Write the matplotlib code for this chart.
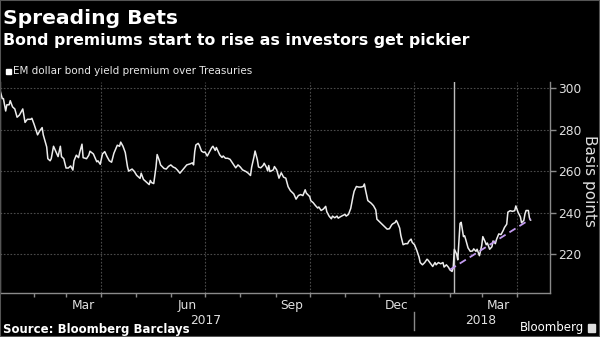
import matplotlib
matplotlib.use("Agg")
import matplotlib.pyplot as plt
import matplotlib.dates as mdates
import matplotlib.transforms as mtransforms
from matplotlib.patches import Rectangle
import pandas as pd

# ---- data (days since 2017-01-01, basis points) ----
day_offsets = [1, 3, 4, 6, 7, 9, 10, 12, 14, 16, 18, 19, 21, 23, 25, 28, 29, 31, 34, 36, 38, 39,
               42, 43, 45, 46, 48, 50, 52, 54, 55, 57, 59, 61, 63, 65, 66, 68, 70, 71, 73, 74,
               77, 79, 80, 83, 86, 87, 89, 91, 93, 95, 97, 99, 101, 104, 106, 107, 109, 111, 113,
               114, 117, 119, 121, 124, 125, 127, 130, 132, 133, 134, 136, 138, 139, 141, 142,
               145, 147, 149, 151, 153, 155, 157, 159, 162, 165, 168, 170, 171, 172, 173, 175,
               176, 178, 180, 181, 183, 185, 187, 188, 190, 191, 194, 196, 197, 199, 201, 203,
               206, 208, 210, 212, 214, 217, 219, 221, 222, 224, 225, 227, 228, 230, 232, 233,
               235, 236, 237, 238, 241, 242, 244, 246, 248, 250, 252, 254, 256, 259, 261, 263,
               265, 267, 269, 270, 273, 274, 276, 278, 280, 281, 283, 285, 287, 288, 290, 292,
               293, 295, 297, 298, 300, 302, 304, 305, 307, 309, 311, 312, 314, 316, 318, 320,
               321, 322, 324, 327, 329, 331, 332, 335, 337, 339, 341, 343, 345, 346, 348, 349,
               350, 352, 353, 355, 357, 359, 360, 362, 363, 365, 367, 369, 370, 372, 374, 376,
               377, 379, 381, 383, 384, 386, 388, 390, 391, 393, 395, 396, 398, 399, 400, 402,
               403, 404, 405, 406, 408, 409, 410, 412, 414, 416, 417, 419, 420, 422, 424, 425,
               427, 428, 429, 431, 433, 434, 436, 437, 439, 441, 443, 444, 446, 447, 449, 451,
               453, 454, 456, 458, 459, 461, 462, 463, 465, 466, 467]
premium_bp = [299, 295, 295, 289, 292, 292, 294, 291, 290, 286, 287, 288, 290, 283.5, 285, 285,
              285.5, 282.5, 277.5, 279.5, 281, 277.5, 271.7, 266, 265, 266, 272, 269.5, 267, 272,
              267, 266, 261.5, 261.5, 262.5, 260.5, 265, 267.7, 266.5, 269, 273, 266.5, 266,
              267.7, 269.6, 268.3, 264.5, 265, 263.3, 268.3, 269.4, 267, 265, 264.3, 268.6,
              272.5, 272, 274, 272, 269, 262, 260, 261, 259.8, 258, 256.5, 259, 256, 254.5,
              253.5, 255.5, 254.5, 254, 262, 268, 265, 263, 261.3, 261, 262.3, 263, 262, 261.5,
              260.4, 259, 261, 263, 263.5, 264, 263, 269.4, 272.6, 273.4, 272.5, 269.6, 269,
              269.3, 267.3, 269.3, 271.4, 272, 270, 271.4, 267.8, 266.6, 267.3, 266.2, 266.2,
              265.7, 263.2, 261.6, 263, 262, 260.6, 259.8, 259, 257.9, 261.9, 266.8, 269.7,
              265.5, 262, 261.6, 262.7, 263.8, 261.8, 260.2, 262.7, 259.8, 260.6, 262.2, 260.6,
              256.6, 259.2, 257.1, 256.6, 252.5, 250.6, 249, 246.5, 248.2, 248.7, 248.2, 251,
              249.4, 247.7, 245.7, 244.8, 243.4, 242.2, 242.7, 241, 241.7, 243, 240.4, 238.3,
              237, 238.3, 237.5, 238.3, 237.3, 238, 238.6, 239.1, 238.3, 239.1, 242, 247.8,
              250.3, 252.6, 252.3, 252.3, 252.6, 253.8, 250.9, 245.8, 244.5, 243.3, 241.3,
              236.8, 235.2, 234.1, 233, 232, 232.2, 234.1, 234.6, 235.2, 236.2, 235.2, 232.5,
              229, 224.5, 225, 225, 226.1, 227.2, 225.6, 224.5, 221.8, 218.5, 215.9, 214.8,
              215.9, 217.5, 217, 215.5, 214, 215.9, 214.8, 215.9, 215.3, 215.9, 213.7, 214.8,
              213.5, 212.4, 211.6, 213.3, 222.3, 220, 217.2, 226, 234.8, 235.3, 228.4, 228.8,
              227, 223, 221.3, 221.5, 222.5, 221.3, 222.3, 219.2, 224, 228.4, 226, 224.5,
              225.3, 222.3, 223.5, 226.3, 225, 227, 229.7, 229.4, 231.5, 232.8, 234.4, 240.2,
              240.9, 240.6, 240.9, 243.2, 240.1, 237.9, 235.1, 236.2, 239.3, 241, 241, 237.3,
              236.4]

trend_dates = ["2018-02-01", "2018-04-13"]
trend_values = [212.4, 236.9]
marker_date = "2018-02-05"

y_ticks = [220, 240, 260, 280, 300]
grid_dates = ["2017-04-01", "2017-07-01", "2017-10-01", "2018-01-01", "2018-04-01"]
month_label_dates = ["2017-03-16", "2017-06-15", "2017-09-15", "2017-12-16", "2018-03-16"]
month_labels = ["Mar", "Jun", "Sep", "Dec", "Mar"]
year_label_dates = ["2017-07-02", "2018-02-28"]
year_labels = ["2017", "2018"]
year_separator = "2018-01-01"

title = "Spreading Bets"
subtitle = "Bond premiums start to rise as investors get pickier"
legend_label = "EM dollar bond yield premium over Treasuries"
y_label = "Basis points"
source = "Source: Bloomberg Barclays"

# ---- figure ----
W, H = 600, 337
fig = plt.figure(figsize=(W / 100, H / 100), dpi=100, facecolor="black")
plt.rcParams["font.family"] = ["DejaVu Sans"]

ax_left, ax_right, ax_top, ax_bottom = 0, 550, 82, 293
ax = fig.add_axes([ax_left / W, 1 - ax_bottom / H, (ax_right - ax_left) / W, (ax_bottom - ax_top) / H])
ax.set_facecolor("black")

dates = pd.Timestamp("2017-01-01") + pd.to_timedelta(day_offsets, unit="D")
ax.plot(dates, premium_bp, color="#ececec", lw=1.1, zorder=3)
ax.plot(pd.to_datetime(trend_dates), trend_values, color="#c39cf0", lw=1.3,
        ls=(0, (4, 2.5)), zorder=4)
ax.axvline(pd.Timestamp(marker_date), color="#bdbdbd", lw=1.0, zorder=2)

ax.set_xlim(pd.Timestamp("2017-01-02"), pd.Timestamp("2018-04-30"))
ax.set_ylim(201.2, 303)

# grid
for gd in grid_dates:
    ax.axvline(pd.Timestamp(gd), color="#4a4a4a", lw=0.8, ls=(0, (1.5, 1.5)), zorder=1)
for yt in y_ticks:
    ax.axhline(yt, color="#4a4a4a", lw=0.8, ls=(0, (1.5, 1.5)), zorder=1)

# spines
for side in ["left", "right", "bottom"]:
    ax.spines[side].set_color("#8a8a8a")
    ax.spines[side].set_linewidth(1.0)
ax.spines["top"].set_visible(False)

# y axis on right
ax.yaxis.tick_right()
ax.set_yticks(y_ticks)
ax.tick_params(axis="y", colors="#8a8a8a", labelcolor="#e0e0e0", labelsize=8.8,
               length=4, width=1, pad=1.5)
ax.yaxis.set_label_position("right")
ax.set_ylabel(y_label, color="#e0e0e0", fontsize=11, rotation=-90, va="center", ha="center")
ax.yaxis.set_label_coords(589 / 550, (293 - 181) / 211)

# x axis
ax.set_xticks(pd.to_datetime(month_label_dates))
ax.set_xticklabels(month_labels)
ax.xaxis.set_minor_locator(mdates.MonthLocator())
ax.tick_params(axis="x", which="major", length=0, labelcolor="#e0e0e0", labelsize=8.8, pad=4.5)
ax.tick_params(axis="x", which="minor", length=3, width=1, color="#8a8a8a")

trans = mtransforms.blended_transform_factory(ax.transData, ax.transAxes)
for d, lab in zip(year_label_dates, year_labels):
    ax.text(pd.Timestamp(d), -0.13, lab, transform=trans, ha="center", va="center",
            color="#e0e0e0", fontsize=8.8)
ax.plot([pd.Timestamp(year_separator)] * 2, [-0.09, -0.175], transform=trans,
        color="#8a8a8a", lw=1, clip_on=False)

# titles
fig.text(3 / W, 1 - 18 / H, title, color="white", fontsize=14.6, fontweight="bold", va="center")
fig.text(3 / W, 1 - 41 / H, subtitle, color="white", fontsize=11.3, fontweight="bold", va="center")
fig.patches.append(Rectangle((6 / W, 1 - 74 / H), 5 / W, 5 / H, transform=fig.transFigure,
                             color="white"))
fig.text(13 / W, 1 - 71 / H, legend_label, color="#e8e8e8", fontsize=7.5, va="center")

# footer
fig.text(3 / W, 1 - 329 / H, source, color="white", fontsize=8.5, fontweight="bold", va="center")
fig.text(584 / W, 1 - 328 / H, "Bloomberg", color="white", fontsize=8.5, ha="right", va="center")
fig.patches.append(Rectangle((588 / W, 1 - 332 / H), 7 / W, 8 / H, transform=fig.transFigure,
                             color="#dddddd"))

# border
fig.patches.append(Rectangle((0, 0), 1, 1, transform=fig.transFigure, fill=False,
                             edgecolor="#555555", lw=1.5))

fig.savefig("out.png", dpi=100, facecolor="black")
